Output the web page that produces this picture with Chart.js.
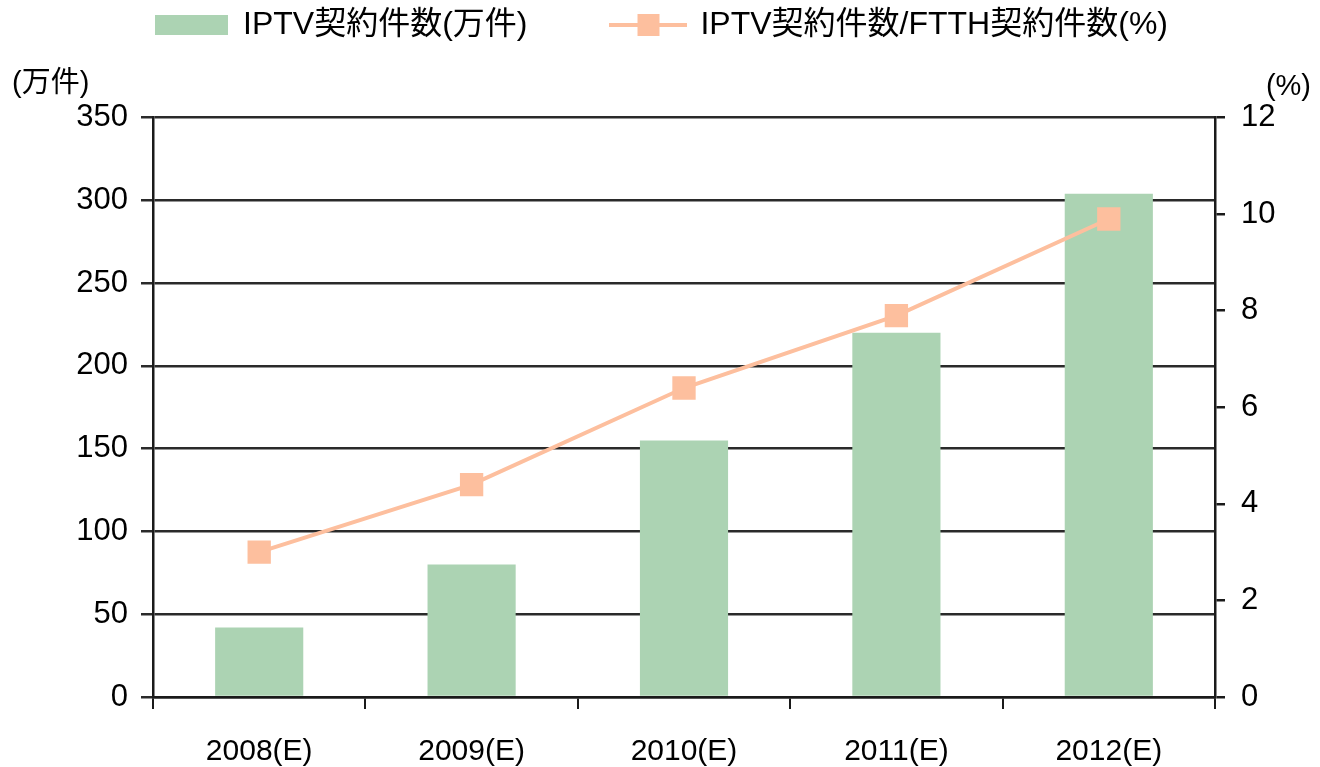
<!DOCTYPE html>
<html>
<head>
<meta charset="utf-8">
<script src="https://cdn.jsdelivr.net/npm/chart.js@4"></script>
<style>
  html, body { margin: 0; padding: 0; background: #ffffff; }
  #wrap { position: relative; width: 1320px; height: 767px; }
</style>
</head>
<body>
<div id="wrap"><canvas id="c"></canvas></div>
<script>
// ---- data ----
const categories = ['2008(E)', '2009(E)', '2010(E)', '2011(E)', '2012(E)'];
const iptvSubscribers = [42, 80, 155, 220, 304];      // 万件
const iptvPerFtthRatio = [3.0, 4.4, 6.4, 7.9, 9.9];   // %
const seriesNames = ['IPTV契約件数(万件)', 'IPTV契約件数/FTTH契約件数(%)'];
const leftUnit = '(万件)';
const rightUnit = '(%)';

// ---- styles ----
const FONT = '"Liberation Sans", Arial, "Noto Sans CJK JP", sans-serif';
const BAR_COLOR = '#acd3b3';
const LINE_COLOR = '#fdbf9e';
const GRID_COLOR = '#2a2a2a';
const AXIS_COLOR = '#1a1a1a';
const TEXT_COLOR = '#000000';

// legend symbols
function barSymbol() {
  const c = document.createElement('canvas');
  c.width = 73; c.height = 20;
  const g = c.getContext('2d');
  g.fillStyle = BAR_COLOR; g.fillRect(0, 0, 73, 20);
  return c;
}
function lineSymbol() {
  const c = document.createElement('canvas');
  c.width = 78; c.height = 24;
  const g = c.getContext('2d');
  g.fillStyle = LINE_COLOR;
  g.fillRect(0, 10, 78, 4);
  g.fillRect(28, 1, 22, 22);
  return c;
}
const legendSymbols = [barSymbol(), lineSymbol()];

const chart = new Chart(document.getElementById('c'), {
  data: {
    labels: categories,
    datasets: [
      {
        type: 'bar',
        label: seriesNames[0],
        data: iptvSubscribers,
        yAxisID: 'y',
        backgroundColor: BAR_COLOR,
        borderWidth: 0,
        categoryPercentage: 1.0,
        barPercentage: 0.415,
        order: 2
      },
      {
        type: 'line',
        label: seriesNames[1],
        data: iptvPerFtthRatio,
        yAxisID: 'y2',
        borderColor: LINE_COLOR,
        backgroundColor: LINE_COLOR,
        borderWidth: 4,
        pointStyle: 'rect',
        pointRadius: 16.5,
        pointBorderWidth: 0,
        pointBackgroundColor: LINE_COLOR,
        tension: 0,
        order: 1
      }
    ]
  },
  options: {
    responsive: true,
    maintainAspectRatio: false,
    animation: false,
    layout: { padding: { top: -76, left: 12, right: 9, bottom: 0 } },
    plugins: {
      tooltip: { enabled: false },
      legend: {
        display: true,
        position: 'top',
        weight: 3000,
        labels: {
          usePointStyle: true,
          pointStyleWidth: 72,
          padding: 85,
          color: TEXT_COLOR,
          font: { family: FONT, size: 32 },
          sort: (a, b) => a.datasetIndex - b.datasetIndex,
          generateLabels: (ch) => {
            const items = Chart.defaults.plugins.legend.labels.generateLabels(ch);
            items.forEach(it => { it.pointStyle = legendSymbols[it.datasetIndex]; });
            return items;
          }
        }
      },
      title: {
        display: true,
        text: leftUnit,
        align: 'start',
        color: TEXT_COLOR,
        font: { family: FONT, size: 29, weight: 'normal' },
        padding: { top: 16, bottom: -32 }
      },
      subtitle: {
        display: true,
        text: rightUnit,
        align: 'end',
        color: TEXT_COLOR,
        font: { family: FONT, size: 29, weight: 'normal' },
        padding: { top: 0, bottom: 13 }
      }
    },
    scales: {
      x: {
        offset: true,
        grid: {
          offset: true,
          drawOnChartArea: false,
          drawTicks: true,
          tickLength: 12,
          color: AXIS_COLOR,
          lineWidth: 2
        },
        border: { display: true, color: AXIS_COLOR, width: 2.5 },
        ticks: {
          color: TEXT_COLOR,
          font: { family: FONT, size: 30 },
          padding: 25,
          maxRotation: 0
        },
        afterFit: (s) => { s.height = 70; }
      },
      y: {
        position: 'left',
        min: 0,
        max: 350,
        ticks: {
          stepSize: 50,
          color: TEXT_COLOR,
          font: { family: FONT, size: 31 },
          padding: 13
        },
        grid: {
          color: GRID_COLOR,
          lineWidth: 2.5,
          drawTicks: true,
          tickLength: 12
        },
        border: { display: true, color: AXIS_COLOR, width: 2.5 },
        afterFit: (s) => { s.width = 141; }
      },
      y2: {
        position: 'right',
        min: 0,
        max: 12,
        ticks: {
          stepSize: 2,
          color: TEXT_COLOR,
          font: { family: FONT, size: 31 },
          padding: 16
        },
        grid: {
          drawOnChartArea: false,
          color: AXIS_COLOR,
          lineWidth: 2.5,
          drawTicks: true,
          tickLength: 10
        },
        border: { display: true, color: AXIS_COLOR, width: 2.5 },
        afterFit: (s) => { s.width = 96; }
      }
    }
  }
});
</script>
</body>
</html>
